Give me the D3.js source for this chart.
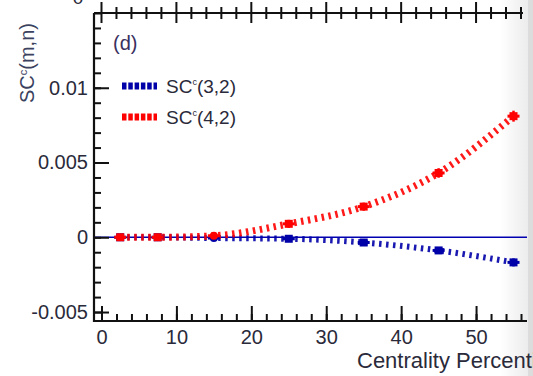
<!DOCTYPE html>
<html>
<head>
<meta charset="utf-8">
<script src="https://cdn.jsdelivr.net/npm/d3@7"></script>
<style>
  body { margin: 0; background: white; }
  svg { display: block; font-family: "Liberation Sans", Arial, sans-serif; }
</style>
</head>
<body>
<div id="chart"></div>
<script>
// centrality bins and SC^c values
var centrality = [2.5, 7.5, 15, 25, 35, 45, 55];
var sc32 = [0.0, 0.0, -0.00005, -0.0001, -0.00035, -0.00088, -0.00168];
var sc42 = [0.0, 0.0, 0.0001, 0.0009, 0.00205, 0.0043, 0.0081];
var err32 = [0.00005, 0.00005, 0.00007, 0.0001, 0.00012, 0.00015, 0.0002];
var err42 = [0.00005, 0.00005, 0.00007, 0.0002, 0.0002, 0.00025, 0.0003];

var xMajor = [0, 10, 20, 30, 40, 50];
var xMinor = d3.range(0, 57, 2);
var yMajor = [-0.005, 0, 0.005, 0.01];
var yMinor = d3.range(-5, 16).map(function (d) { return d / 1000; });

var seriesNames = ["(3,2)", "(4,2)"];
var seriesColors = ["#0000a8", "#ff0000"];

var W = 533, H = 376;
var pLeft = 94, pRight = 527, pTop = 13, pBottom = 321;

var svg = d3
  .select("#chart")
  .append("svg")
  .attr("width", W)
  .attr("height", H);

var x = d3.scaleLinear().domain([-1, 56.8]).range([pLeft, pRight]);
var y = d3.scaleLinear().domain([-0.0056, 0.015]).range([pBottom, pTop]);

//grey strip on the right edge (page edge of the scan)
var grad = svg.append("defs").append("linearGradient")
  .attr("id", "edge")
  .attr("x1", "0").attr("x2", "1").attr("y1", "0").attr("y2", "0");
grad.append("stop").attr("offset", "0").attr("stop-color", "#ffffff");
grad.append("stop").attr("offset", "1").attr("stop-color", "#ececec");

svg.append("rect")
  .attr("x", 500)
  .attr("y", 0)
  .attr("width", 28)
  .attr("height", H)
  .attr("fill", "url(#edge)");

svg.append("rect")
  .attr("x", 528)
  .attr("y", 0)
  .attr("width", 5)
  .attr("height", H)
  .attr("fill", "#dcdcdc");

//zero line
svg.append("line")
  .attr("x1", pLeft)
  .attr("x2", pRight)
  .attr("y1", y(0))
  .attr("y2", y(0))
  .attr("stroke", "#0000b0")
  .attr("stroke-width", 1.6);

//Axes
var textColor = "#2a2a3a";

var yAxisMinor = d3.axisLeft(y).tickValues(yMinor).tickFormat("").tickSize(-7);
var yAxisMajor = d3.axisLeft(y).tickValues(yMajor).tickSize(-15).tickPadding(6)
  .tickFormat(function (d) { return d === 0 ? "0" : String(+d.toFixed(3)); });

svg.append("g").attr("transform", "translate(" + pLeft + ",0)").call(yAxisMinor);
var gy = svg.append("g").attr("transform", "translate(" + pLeft + ",0)").call(yAxisMajor);

var xAxisMinor = d3.axisBottom(x).tickValues(xMinor).tickFormat("").tickSize(-7);
var xAxisMajor = d3.axisBottom(x).tickValues(xMajor).tickSize(-15).tickPadding(9);

svg.append("g").attr("transform", "translate(0," + pBottom + ")").call(xAxisMinor);
var gx = svg.append("g").attr("transform", "translate(0," + pBottom + ")").call(xAxisMajor);

svg.selectAll(".domain").remove();
svg.selectAll(".tick line").attr("stroke", "#111").attr("stroke-width", 2);

gy.selectAll("text")
  .attr("fill", textColor)
  .style("font-size", "20px");
gx.selectAll("text")
  .attr("fill", textColor)
  .style("font-size", "20px");

//axis lines
svg.append("line")
  .attr("x1", pLeft).attr("x2", pLeft)
  .attr("y1", pTop).attr("y2", pBottom + 1)
  .attr("stroke", "#111").attr("stroke-width", 2.2);
svg.append("line")
  .attr("x1", pLeft).attr("x2", pRight)
  .attr("y1", pBottom).attr("y2", pBottom)
  .attr("stroke", "#111").attr("stroke-width", 2.2);
svg.append("line")
  .attr("x1", pLeft).attr("x2", 523)
  .attr("y1", pTop).attr("y2", pTop)
  .attr("stroke", "#111").attr("stroke-width", 2.2);

//top axis ticks, crossing both ways
svg.append("g")
  .selectAll("line")
  .data(xMinor.filter(function (d) { return x(d) < 524; }))
  .join("line")
  .attr("x1", function (d) { return x(d); })
  .attr("x2", function (d) { return x(d); })
  .attr("y1", function (d) { return d % 10 === 0 ? pTop - 11 : pTop - 6; })
  .attr("y2", function (d) { return d % 10 === 0 ? pTop + 10 : pTop + 6; })
  .attr("stroke", "#111")
  .attr("stroke-width", 2);

//fragment of the panel above
svg.append("text")
  .attr("x", 78)
  .attr("y", 4)
  .attr("text-anchor", "middle")
  .attr("fill", textColor)
  .style("font-size", "19px")
  .text("0");

//axis titles
svg.append("text")
  .attr("x", 357)
  .attr("y", 368)
  .attr("fill", textColor)
  .style("font-size", "22px")
  .text("Centrality Percentile (%)");

var ylab = svg.append("text")
  .attr("transform", "translate(34,103) rotate(-90)")
  .attr("fill", "#3a4260")
  .style("font-size", "20px");
ylab.append("tspan").text("SC");
ylab.append("tspan").attr("dy", -7).style("font-size", "11px").text("c");
ylab.append("tspan").attr("dy", 7).text("(m,n)");

//panel letter
svg.append("text")
  .attr("x", 113)
  .attr("y", 50)
  .attr("fill", "#3a3060")
  .style("font-size", "20px")
  .text("(d)");

//curves
var series = [sc32, sc42];
var errs = [err32, err42];
var line = d3.line()
  .x(function (d, i) { return x(centrality[i]); })
  .y(function (d) { return y(d); })
  .curve(d3.curveMonotoneX);

series.forEach(function (vals, s) {
  svg.append("path")
    .attr("d", line(vals))
    .attr("fill", "none")
    .attr("stroke", seriesColors[s])
    .attr("stroke-width", s === 0 ? 6 : 7)
    .attr("stroke-dasharray", "2.5,4.5")
    .attr("opacity", 0.9);
});

//markers with error bars
series.forEach(function (vals, s) {
  var g = svg.append("g").attr("fill", seriesColors[s]).attr("stroke", seriesColors[s]);
  vals.forEach(function (v, i) {
    var cx = x(centrality[i]), cy = y(v);
    g.append("line")
      .attr("x1", cx).attr("x2", cx)
      .attr("y1", y(v - errs[s][i]) + 1).attr("y2", y(v + errs[s][i]) - 1)
      .attr("stroke-width", 2.5);
    g.append("line")
      .attr("x1", cx - 6).attr("x2", cx + 6)
      .attr("y1", cy).attr("y2", cy)
      .attr("stroke-width", 3);
    g.append("rect")
      .attr("x", cx - 4).attr("y", cy - 4)
      .attr("width", 8).attr("height", 8)
      .attr("rx", i === 2 ? 4 : 0)
      .attr("stroke", "none");
  });
});

//legend
seriesNames.forEach(function (name, s) {
  var ly = 86 + s * 31;
  svg.append("line")
    .attr("x1", 122).attr("x2", 157)
    .attr("y1", ly).attr("y2", ly)
    .attr("stroke", seriesColors[s])
    .attr("stroke-width", 7)
    .attr("stroke-dasharray", "4.5,1.8");
  var t = svg.append("text")
    .attr("x", 166)
    .attr("y", ly + 7)
    .attr("fill", textColor)
    .style("font-size", "19px");
  t.append("tspan").text("SC");
  t.append("tspan").attr("dy", -8).style("font-size", "9px").text("c");
  t.append("tspan").attr("dy", 8).text(name);
});
</script>
</body>
</html>
